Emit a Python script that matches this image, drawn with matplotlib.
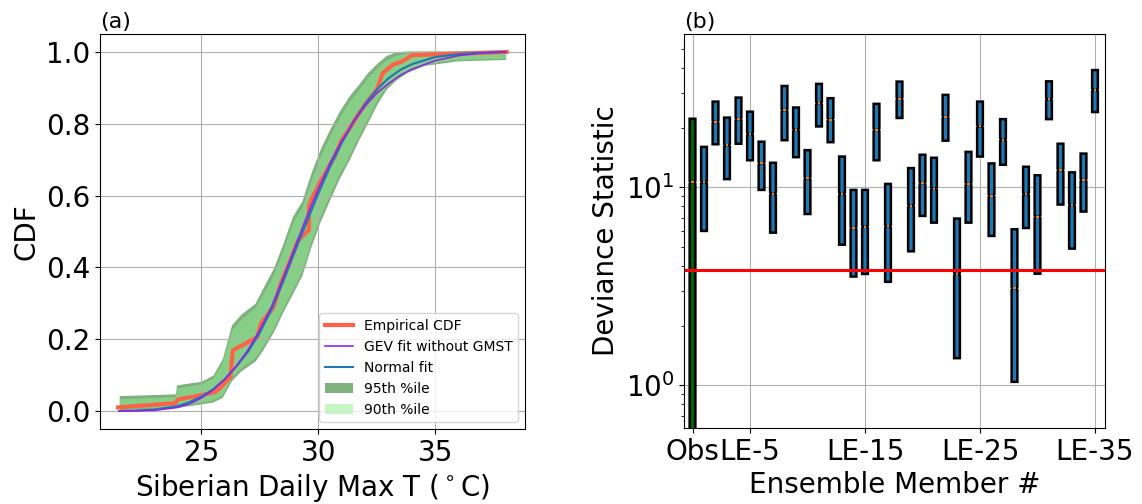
import numpy as np
import matplotlib.pyplot as plt

# (a) Siberian daily max T: empirical CDF, fitted CDFs and bootstrap bands
emp_t = [21.45, 23.9, 24.0, 25.0, 25.6, 25.85, 26.25, 26.35, 26.9, 27.4, 27.55, 28.1,
         28.4, 28.7, 29.15, 29.6, 29.6, 29.7, 30.05, 30.3, 30.7, 31.0, 31.3, 31.65,
         32.05, 32.5, 32.75, 33.2, 33.6, 34.0, 38.05]
emp_cdf = [0.01, 0.022, 0.032, 0.044, 0.053, 0.067, 0.095, 0.169, 0.188, 0.206, 0.244, 0.29,
           0.355, 0.402, 0.476, 0.504, 0.569, 0.588, 0.634, 0.662, 0.709, 0.755, 0.783, 0.82,
           0.858, 0.895, 0.941, 0.965, 0.974, 0.991, 1.0]

fit_t = [21.5, 22, 23, 24, 24.5, 25, 25.5, 26, 26.5, 27, 27.5, 28, 28.5, 29, 29.5, 30,
         30.5, 31, 31.5, 32, 32.5, 33, 33.5, 34, 35, 36, 37, 38]
normal_cdf = [0.0, 0.001, 0.004, 0.014, 0.025, 0.040, 0.060, 0.088, 0.124, 0.165, 0.218,
              0.282, 0.36, 0.445, 0.525, 0.605, 0.68, 0.746, 0.805, 0.855, 0.895, 0.927,
              0.95, 0.966, 0.986, 0.994, 0.998, 1.0]
gev_cdf = [0.0, 0.0, 0.002, 0.010, 0.020, 0.036, 0.058, 0.088, 0.125, 0.170, 0.225, 0.29,
           0.37, 0.455, 0.54, 0.618, 0.69, 0.752, 0.805, 0.85, 0.885, 0.912, 0.935, 0.952,
           0.976, 0.99, 0.997, 1.0]

band_t = [21.5, 23.0, 23.9, 23.95, 25.0, 25.5, 25.9, 26.3, 26.7, 27.3, 27.6, 28.1, 28.5,
          28.9, 29.3, 29.7, 30.1, 30.5, 30.9, 31.3, 31.7, 32.1, 32.5, 32.9, 33.3, 33.8,
          34.5, 35.9, 38.0]
hi95 = [0.043, 0.046, 0.048, 0.073, 0.083, 0.1, 0.145, 0.24, 0.27, 0.3, 0.338, 0.4, 0.468,
        0.542, 0.585, 0.665, 0.732, 0.786, 0.835, 0.876, 0.908, 0.942, 0.968, 0.99, 1.0,
        1.003, 1.003, 1.003, 1.003]
hi90 = [0.034, 0.038, 0.04, 0.064, 0.076, 0.092, 0.134, 0.226, 0.256, 0.288, 0.322, 0.382,
        0.45, 0.524, 0.567, 0.643, 0.712, 0.767, 0.816, 0.86, 0.893, 0.928, 0.955, 0.978,
        0.99, 0.997, 0.999, 1.0, 1.0]
lo90 = [0.008, 0.011, 0.014, 0.014, 0.025, 0.031, 0.045, 0.094, 0.121, 0.149, 0.178, 0.233,
        0.288, 0.339, 0.39, 0.474, 0.544, 0.604, 0.662, 0.71, 0.764, 0.814, 0.865, 0.906,
        0.93, 0.95, 0.968, 0.979, 0.983]
lo95 = [0.004, 0.007, 0.01, 0.01, 0.02, 0.025, 0.038, 0.085, 0.112, 0.139, 0.167, 0.222,
        0.277, 0.327, 0.377, 0.46, 0.53, 0.59, 0.648, 0.697, 0.752, 0.802, 0.854, 0.896,
        0.921, 0.943, 0.962, 0.975, 0.979]

# (b) deviance statistic per ensemble member (quartiles and median)
members = ['Obs'] + ['LE-%d' % i for i in range(1, 36)]
dev_q1 = [0.3, 6.02, 16.5, 11.0, 16.6, 13.7, 9.7, 5.9, 17.3, 14.2,
          7.33, 20.3, 16.9, 5.13, 3.54, 3.65, 13.7, 3.33, 22.4, 4.75,
          7.17, 6.63, 17.2, 1.37, 6.63, 14.3, 5.68, 13.0, 1.04, 6.23,
          3.66, 22.1, 8.18, 4.9, 7.54, 24.0]
dev_med = [10.6, 10.6, 21.4, 16.3, 22.1, 18.6, 13.2, 9.29, 24.5, 19.5,
           11.1, 26.6, 22.0, 9.25, 6.23, 6.33, 19.5, 6.35, 28.0, 8.08,
           10.5, 9.85, 22.7, 3.64, 10.4, 20.3, 9.08, 17.4, 3.09, 9.22,
           7.11, 27.9, 12.2, 8.14, 10.9, 31.1]
dev_q3 = [22.2, 16.0, 27.1, 22.5, 28.4, 24.1, 17.0, 13.3, 32.5, 25.3,
          15.4, 33.3, 28.2, 14.3, 9.7, 9.7, 26.4, 10.4, 34.2, 12.5,
          14.6, 14.1, 29.3, 6.95, 15.1, 27.1, 13.2, 22.1, 6.14, 12.7,
          11.5, 34.3, 16.6, 11.9, 14.8, 39.1]
threshold = 3.8
tick_members = [0, 5, 15, 25, 35]

fig = plt.figure(figsize=(11.42, 5.04), dpi=100)
ax1 = fig.add_axes([100 / 1142, 1 - 429 / 504, 425 / 1142, 395 / 504])
ax2 = fig.add_axes([684 / 1142, 1 - 428 / 504, 421 / 1142, 394 / 504])

# left panel
ax1.fill_between(band_t, lo95, hi95, color='darkgreen', alpha=0.5, lw=0, label='95th %ile')
ax1.fill_between(band_t, lo90, hi90, color='lightgreen', alpha=0.5, lw=0, label='90th %ile')
ax1.plot(emp_t, emp_cdf, color='tomato', lw=3, label='Empirical CDF', zorder=3)
ax1.plot(fit_t, normal_cdf, color='#1f77b4', lw=1.5, label='Normal fit', zorder=4)
ax1.plot(fit_t, gev_cdf, color='blueviolet', lw=1.2, label='GEV fit without GMST', zorder=4)
h, l = ax1.get_legend_handles_labels()
order = [2, 4, 3, 0, 1]
ax1.legend([h[i] for i in order], [l[i] for i in order], loc='lower right', fontsize=10)
ax1.set_xlim(20.68, 38.83)
ax1.set_ylim(-0.05, 1.05)
ax1.set_xticks([25, 30, 35])
ax1.set_yticks([0.0, 0.2, 0.4, 0.6, 0.8, 1.0])
ax1.grid(True)
ax1.set_xlabel('Siberian Daily Max T ($^\\circ$C)', fontsize=20)
ax1.set_ylabel('CDF', fontsize=20)
ax1.tick_params(labelsize=20)
ax1.set_title('(a)', loc='left', fontsize=16, pad=4)

# right panel: notched boxes with tiny notches
stats = []
for i in range(len(members)):
    stats.append(dict(med=dev_med[i], q1=dev_q1[i], q3=dev_q3[i],
                      whislo=dev_q1[i], whishi=dev_q3[i],
                      cilo=dev_med[i] * 0.985, cihi=dev_med[i] * 1.015))
bp = ax2.bxp(stats, positions=range(len(members)), widths=0.5, capwidths=0.36,
             patch_artist=True, shownotches=True, showcaps=False, showfliers=False,
             boxprops=dict(edgecolor='black', linewidth=1.8),
             medianprops=dict(color='#ff7f0e', linewidth=1.5),
             whiskerprops=dict(linewidth=0))
for j, box in enumerate(bp['boxes']):
    box.set_facecolor('darkgreen' if j == 0 else '#1f77b4')
ax2.axhline(threshold, color='red', lw=2.2)
ax2.set_yscale('log')
ax2.set_ylim(0.608, 59.5)
ax2.set_xlim(-0.74, 35.87)
ax2.set_xticks(tick_members)
ax2.set_xticklabels([members[i] for i in tick_members])
ax2.grid(True)
ax2.set_axisbelow(True)
ax2.set_xlabel('Ensemble Member #', fontsize=20)
ax2.set_ylabel('Deviance Statistic', fontsize=20)
ax2.tick_params(labelsize=20)
ax2.set_title('(b)', loc='left', fontsize=16, pad=4)

fig.savefig('out.png', dpi=100)
